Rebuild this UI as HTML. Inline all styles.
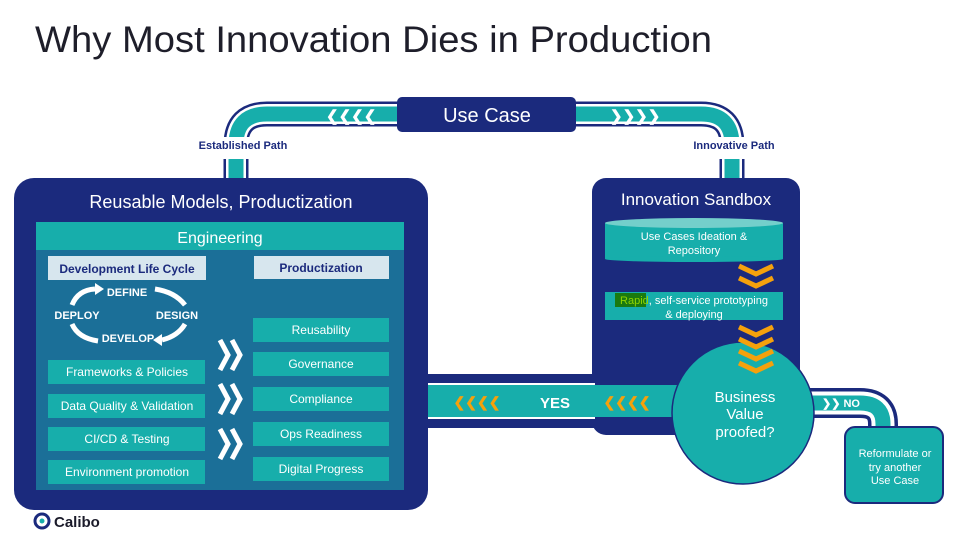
<!DOCTYPE html>
<html><head><meta charset="utf-8"><style>
html,body{margin:0;padding:0;background:#fff;}
svg{display:block;font-family:"Liberation Sans",sans-serif;}
</style></head><body>
<svg width="957" height="535" viewBox="0 0 957 535" xmlns="http://www.w3.org/2000/svg">
<rect width="957" height="535" fill="#fff"/>
<text x="35" y="52" font-size="37" fill="#1e1e2a" textLength="677" lengthAdjust="spacingAndGlyphs">Why Most Innovation Dies in Production</text>

<!-- top pipe -->
<g fill="none">
<path d="M236,185 V145 Q236,114 267,114 H701 Q732,114 732,145 V185" stroke="#1b2a7d" stroke-width="25"/>
<path d="M236,185 V145 Q236,114 267,114 H701 Q732,114 732,145 V185" stroke="#fff" stroke-width="20"/>
<path d="M236,185 V145 Q236,114 267,114 H701 Q732,114 732,145 V185" stroke="#17aeab" stroke-width="15"/>
</g>
<rect x="185" y="137" width="115" height="22" fill="#fff"/>
<rect x="680" y="137" width="100" height="22" fill="#fff"/>
<text x="326" y="121" font-size="15" font-weight="bold" fill="#fff">❮❮❮❮</text>
<text x="610" y="121" font-size="15" font-weight="bold" fill="#fff">❯❯❯❯</text>
<rect x="397" y="97" width="179" height="35" rx="5" fill="#1b2a7d"/>
<text x="487" y="122" font-size="20" fill="#fff" text-anchor="middle">Use Case</text>
<text x="243" y="149" font-size="11" font-weight="bold" fill="#1b2a7d" text-anchor="middle">Established Path</text>
<text x="734" y="149" font-size="11" font-weight="bold" fill="#1b2a7d" text-anchor="middle">Innovative Path</text>

<!-- sandbox -->
<rect x="592" y="178" width="208" height="257" rx="14" fill="#1b2a7d"/>
<text x="696" y="205" font-size="17" fill="#fff" text-anchor="middle">Innovation Sandbox</text>
<rect x="605" y="223" width="178" height="36" fill="#17aeab"/>
<ellipse cx="694" cy="259" rx="89" ry="3" fill="#17aeab"/>
<ellipse cx="694" cy="223" rx="89" ry="5" fill="#74cfcb"/>
<text x="694" y="240" font-size="11" fill="#fff" text-anchor="middle">Use Cases Ideation &amp;</text>
<text x="694" y="254" font-size="11" fill="#fff" text-anchor="middle">Repository</text>
<rect x="605" y="292" width="178" height="28" fill="#17aeab"/>
<rect x="615" y="293" width="31" height="14" fill="#1a7a10"/>
<text x="694" y="304" font-size="11" fill="#fff" text-anchor="middle"><tspan fill="#8fd400">Rapid</tspan>, self-service prototyping</text>
<text x="694" y="318" font-size="11" fill="#fff" text-anchor="middle">&amp; deploying</text>
<g fill="none" stroke="#f5a10c" stroke-width="5">
<path d="M739,266 L756,274 L773,266"/><path d="M739,278 L756,286 L773,278"/>
<path d="M739,327 L756,335 L773,327"/>
</g>

<!-- yes pipe -->
<rect x="425" y="374" width="250" height="54" fill="#1b2a7d"/>
<rect x="425" y="383" width="170" height="36" fill="#fff"/>
<rect x="425" y="385" width="260" height="32" fill="#17aeab"/>
<text x="477" y="407" font-size="14" font-weight="bold" fill="#f5a10c" text-anchor="middle">❮❮❮❮</text>
<text x="627" y="407" font-size="14" font-weight="bold" fill="#f5a10c" text-anchor="middle">❮❮❮❮</text>
<text x="555" y="408" font-size="15" font-weight="bold" fill="#fff" text-anchor="middle">YES</text>

<!-- no pipe -->
<g fill="none">
<path d="M800,403 H860 Q883,403 883,424 V434" stroke="#1b2a7d" stroke-width="30"/>
<path d="M800,403 H860 Q883,403 883,424 V434" stroke="#fff" stroke-width="23"/>
<path d="M800,403 H860 Q883,403 883,424 V434" stroke="#17aeab" stroke-width="15"/>
</g>
<text x="822" y="407" font-size="11" font-weight="bold" fill="#fff">❯❯ NO</text>
<rect x="845" y="427" width="98" height="76" rx="10" fill="#17aeab" stroke="#1b2a7d" stroke-width="2"/>
<text x="895" y="457" font-size="11" fill="#fff" text-anchor="middle">Reformulate or</text>
<text x="895" y="471" font-size="11" fill="#fff" text-anchor="middle">try another</text>
<text x="895" y="484" font-size="11" fill="#fff" text-anchor="middle">Use Case</text>

<circle cx="743" cy="413" r="71" fill="#17aeab" stroke="#1b2a7d" stroke-width="1.5"/>
<g fill="none" stroke="#f5a10c" stroke-width="5">
<path d="M739,339 L756,347 L773,339"/><path d="M739,351 L756,359 L773,351"/><path d="M739,363 L756,371 L773,363"/>
</g>
<text x="745" y="402" font-size="15" fill="#fff" text-anchor="middle">Business</text>
<text x="745" y="419" font-size="15" fill="#fff" text-anchor="middle">Value</text>
<text x="745" y="437" font-size="15" fill="#fff" text-anchor="middle">proofed?</text>

<!-- left box -->
<rect x="14" y="178" width="414" height="332" rx="20" fill="#1b2a7d"/>
<text x="221" y="208" font-size="18" fill="#fff" text-anchor="middle">Reusable Models, Productization</text>
<rect x="36" y="222" width="368" height="28" fill="#17aeab"/>
<text x="220" y="243" font-size="16" fill="#fff" text-anchor="middle">Engineering</text>
<rect x="36" y="250" width="368" height="240" fill="#1b6f98"/>
<rect x="48" y="256" width="158" height="24" fill="#d7e6ee"/>
<text x="127" y="273" font-size="12" font-weight="bold" fill="#1b2a7d" text-anchor="middle">Development Life Cycle</text>
<rect x="254" y="256" width="135" height="23" fill="#d7e6ee"/>
<text x="321" y="272" font-size="12" font-weight="bold" fill="#1b2a7d" text-anchor="middle">Productization</text>

<g fill="none" stroke="#fff" stroke-width="5">
<path d="M72,305 Q78,290 95,289"/>
<path d="M155,289 Q175,292 185,305"/>
<path d="M185,324 Q178,336 162,340"/>
<path d="M98,341 Q78,338 72,324"/>
</g>
<polygon points="95,283 104,289 95,295" fill="#fff"/>
<polygon points="162,334 153,340 162,346" fill="#fff"/>
<g font-size="11" font-weight="bold" fill="#fff" text-anchor="middle">
<text x="127" y="296">DEFINE</text>
<text x="177" y="319">DESIGN</text>
<text x="128" y="342">DEVELOP</text>
<text x="77" y="319">DEPLOY</text>
</g>

<g fill="#17aeab">
<rect x="48" y="360" width="157" height="24"/><rect x="48" y="394" width="157" height="24"/>
<rect x="48" y="427" width="157" height="24"/><rect x="48" y="460" width="157" height="24"/>
<rect x="253" y="318" width="136" height="24"/><rect x="253" y="352" width="136" height="24"/>
<rect x="253" y="387" width="136" height="24"/><rect x="253" y="422" width="136" height="24"/>
<rect x="253" y="457" width="136" height="24"/>
</g>
<g font-size="12" fill="#fff" text-anchor="middle">
<text x="127" y="376">Frameworks &amp; Policies</text>
<text x="127" y="410">Data Quality &amp; Validation</text>
<text x="127" y="443">CI/CD &amp; Testing</text>
<text x="127" y="476">Environment promotion</text>
<text x="321" y="334">Reusability</text>
<text x="321" y="368">Governance</text>
<text x="321" y="403">Compliance</text>
<text x="321" y="438">Ops Readiness</text>
<text x="321" y="473">Digital Progress</text>
</g>
<g fill="none" stroke="#fff" stroke-width="5">
<path d="M220,340 L228,355 L220,370 M232,340 L240,355 L232,370"/>
<path d="M220,384 L228,399 L220,414 M232,384 L240,399 L232,414"/>
<path d="M220,429 L228,444 L220,459 M232,429 L240,444 L232,459"/>
</g>

<!-- logo -->
<circle cx="42" cy="521" r="7" fill="none" stroke="#1b2a7d" stroke-width="3"/>
<circle cx="42" cy="521" r="2.5" fill="#17aeab"/>
<text x="54" y="527" font-size="15" font-weight="bold" fill="#1b1b2a">Calibo</text>
</svg>
</body></html>
